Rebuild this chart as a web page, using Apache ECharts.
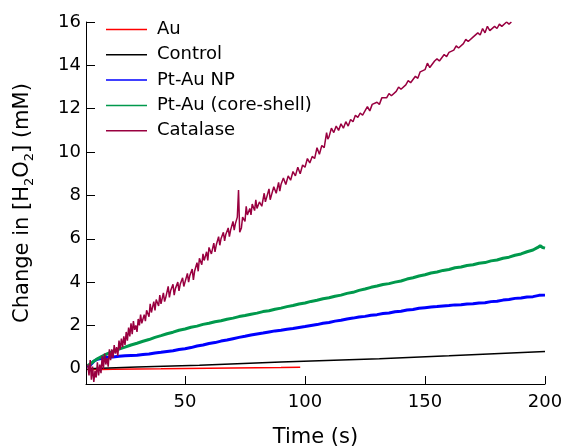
<!DOCTYPE html>
<html>
<head>
<meta charset="utf-8">
<script src="https://cdn.jsdelivr.net/npm/echarts@6/dist/echarts.min.js"></script>
<style>
  html, body { margin: 0; padding: 0; background: #fff; }
  #chart { width: 564px; height: 447px; }
</style>
</head>
<body>
<div id="chart"></div>
<script>
// values, [time (s), change in H2O2 (mM)]
var xTicks = [50, 100, 150, 200];
var yTicks = [0, 2, 4, 6, 8, 10, 12, 14, 16];

var au = [
  [9.5, -0.04], [20, -0.02], [30, -0.01], [40, 0.0], [50, 0.02], [60, 0.03],
  [70, 0.04], [80, 0.05], [90, 0.06], [98, 0.07]
];

var control = [
  [9.5, 0.0], [30, 0.08], [56, 0.17], [90, 0.32], [131, 0.47], [160, 0.6], [200, 0.8]
];

var ptAuNp = [
  [9.5, 0.05], [11, 0.22], [12, 0.35], [13.5, 0.44], [15, 0.48], [17.5, 0.53], [20, 0.55],
  [22.5, 0.58], [25, 0.6], [27.5, 0.62], [30, 0.63], [32.5, 0.66], [35, 0.68], [37.5, 0.73],
  [40, 0.76], [42.5, 0.8], [45, 0.83], [47.5, 0.89], [50, 0.93], [52.5, 0.98], [55, 1.05],
  [57.5, 1.1], [60, 1.17], [62.5, 1.21], [65, 1.28], [67.5, 1.33], [70, 1.39], [72.5, 1.45],
  [75, 1.5], [77.5, 1.56], [80, 1.61], [82.5, 1.65], [85, 1.7], [87.5, 1.75], [90, 1.78],
  [92.5, 1.83], [95, 1.86], [97.5, 1.91], [100, 1.95], [102.5, 2.0], [105, 2.04], [107.5, 2.1],
  [110, 2.14], [112.5, 2.2], [115, 2.24], [117.5, 2.3], [120, 2.34], [122.5, 2.39], [125, 2.42],
  [127.5, 2.47], [130, 2.5], [132.5, 2.55], [135, 2.58], [137.5, 2.63], [140, 2.66], [142.5, 2.71],
  [145, 2.74], [147.5, 2.79], [150, 2.82], [152.5, 2.85], [155, 2.87], [157.5, 2.9], [160, 2.92],
  [162.5, 2.95], [165, 2.96], [167.5, 2.99], [170, 3.0], [172.5, 3.04], [175, 3.05], [177.5, 3.1],
  [180, 3.12], [182.5, 3.17], [185, 3.2], [187.5, 3.25], [190, 3.27], [192.5, 3.31], [195, 3.33],
  [197.5, 3.39], [200, 3.4]
];

var ptAuCoreShell = [
  [9.5, 0.15], [11, 0.26], [12, 0.35], [13.5, 0.46], [15, 0.55], [17.5, 0.69], [20, 0.8],
  [22.5, 0.91], [25, 1.0], [27.5, 1.1], [30, 1.18], [32.5, 1.27], [35, 1.35], [37.5, 1.45],
  [40, 1.53], [42.5, 1.62], [45, 1.69], [47.5, 1.78], [50, 1.84], [52.5, 1.92], [55, 1.97],
  [57.5, 2.05], [60, 2.1], [62.5, 2.17], [65, 2.22], [67.5, 2.29], [70, 2.34], [72.5, 2.41],
  [75, 2.46], [77.5, 2.52], [80, 2.57], [82.5, 2.64], [85, 2.68], [87.5, 2.75], [90, 2.8],
  [92.5, 2.87], [95, 2.92], [97.5, 2.99], [100, 3.04], [102.5, 3.11], [105, 3.16], [107.5, 3.23],
  [110, 3.28], [112.5, 3.35], [115, 3.4], [117.5, 3.48], [120, 3.53], [122.5, 3.62], [125, 3.68],
  [127.5, 3.76], [130, 3.82], [132.5, 3.89], [135, 3.93], [137.5, 4.0], [140, 4.05], [142.5, 4.14],
  [145, 4.2], [147.5, 4.28], [150, 4.34], [152.5, 4.42], [155, 4.47], [157.5, 4.54], [160, 4.58],
  [162.5, 4.66], [165, 4.7], [167.5, 4.77], [170, 4.8], [172.5, 4.87], [175, 4.9], [177.5, 4.98],
  [180, 5.02], [182.5, 5.1], [185, 5.15], [187.5, 5.24], [190, 5.3], [192.5, 5.4], [195, 5.48],
  [197, 5.6], [198, 5.68], [199, 5.6], [200, 5.57]
];

var catalase = [
  [9.5, 0.2], [10, -0.3], [10.5, 0.4], [11, -0.5], [11.5, 0.1], [12, -0.6], [12.5, -0.1],
  [13, -0.4], [13.5, 0.3], [14, -0.3], [14.5, 0.2], [15, -0.2], [15.5, 0.6], [16, 0.0],
  [16.5, 0.7], [17, 0.2], [17.5, 0.5], [18, 0.1], [18.5, 0.9], [19, 0.4], [19.5, 0.9],
  [20, 0.5], [20.5, 1.1], [21, 0.7], [21.5, 1.0], [22, 0.6], [22.5, 1.3], [23, 0.9],
  [23.5, 1.4], [24, 1.0], [24.5, 1.5], [25, 1.1], [25.5, 1.7], [26, 1.3], [26.5, 1.9],
  [27, 1.5], [27.5, 2.1], [28, 1.6], [28.5, 2.2], [29, 1.8], [29.5, 2.0], [30, 1.7],
  [30.5, 2.3], [31, 2.0], [31.5, 2.5], [32, 2.1], [33, 2.5], [33.5, 2.2], [34, 2.7],
  [35, 2.4], [35.5, 3.0], [36, 2.6], [37, 3.1], [37.5, 2.7], [38, 3.2], [39, 2.9],
  [39.5, 3.4], [40, 3.0], [41, 3.5], [41.5, 3.1], [42, 3.3], [43, 3.8], [43.5, 3.3],
  [44, 3.6], [45, 3.9], [45.5, 3.4], [46, 3.7], [47, 4.0], [47.5, 3.6], [48, 3.9],
  [49, 4.2], [49.5, 3.8], [50, 4.0], [51, 4.4], [51.5, 4.0], [52, 4.3], [53, 4.6],
  [53.5, 4.1], [54, 4.5], [55, 4.9], [55.5, 4.5], [56, 5.1], [57, 4.8], [57.5, 5.3],
  [58, 5.0], [59, 5.4], [59.5, 5.0], [60, 5.6], [61, 5.3], [62, 5.8], [62.5, 5.4],
  [63, 5.7], [64, 6.1], [64.5, 5.7], [65, 6.0], [66, 6.3], [66.5, 5.9], [67, 6.2],
  [68, 6.5], [68.5, 6.1], [69, 6.4], [70, 6.8], [70.5, 6.4], [71, 6.7], [71.8, 7.0],
  [72.3, 8.25], [72.8, 6.3], [73.5, 6.5], [74, 7.0], [75, 6.8], [75.5, 7.5], [76, 7.1],
  [77, 7.4], [77.5, 7.1], [78, 7.6], [79, 7.3], [79.5, 7.8], [80, 7.4], [81, 7.7],
  [82, 7.5], [83, 8.1], [83.5, 7.7], [84, 7.9], [85, 8.3], [85.5, 7.8], [86, 8.0],
  [87, 8.4], [88, 8.1], [89, 8.6], [89.5, 8.2], [90, 8.5], [91, 8.8], [92, 8.5],
  [93, 8.9], [94, 8.7], [95, 9.1], [96, 8.9], [97, 9.3], [98, 9.0], [99, 9.4],
  [100, 9.3], [101, 9.7], [102, 9.5], [103, 9.8], [104, 9.7], [105, 10.2], [106, 9.9],
  [107, 10.3], [108, 10.2], [109, 10.9], [109.5, 10.6], [110, 10.7], [111, 11.1], [112, 10.9],
  [113, 11.2], [114, 11.0], [115, 11.3], [116, 11.1], [117, 11.4], [118, 11.2], [119, 11.5],
  [120, 11.4], [121, 11.7], [122, 11.6], [123, 11.8], [124, 11.7], [125, 11.9], [126, 12.1],
  [127, 11.9], [128, 12.2], [130, 12.3], [131, 12.2], [132, 12.5], [134, 12.5], [135, 12.7],
  [136, 12.6], [138, 12.8], [139, 13.0], [140, 12.9], [142, 13.1], [143, 13.3], [144, 13.2],
  [146, 13.5], [147, 13.4], [148, 13.7], [150, 13.8], [151, 14.1], [152, 13.9], [154, 14.2],
  [155, 14.3], [156, 14.2], [158, 14.5], [159, 14.4], [160, 14.6], [162, 14.7], [163, 14.9],
  [164, 14.8], [166, 15.0], [167, 15.2], [168, 15.1], [170, 15.3], [172, 15.5], [173, 15.4],
  [174, 15.7], [175, 15.5], [176, 15.8], [177, 15.6], [179, 15.8], [180, 15.7], [181, 15.9],
  [182, 15.8], [184, 16.0], [185, 15.9], [186, 16.0]
];

var font = 'DejaVu Sans';

function lineSeries(name, data, color, width) {
    return {
        name: name,
        type: 'line',
        data: data,
        symbol: 'none',
        showSymbol: false,
        animation: false,
        lineStyle: { color: color, width: width },
        itemStyle: { color: color }
    };
}

var myChart = echarts.init(document.getElementById('chart'));
var option = {
    backgroundColor: '#fff',
    animation: false,
    grid: { left: 86, right: 19, top: 22, bottom: 63, containLabel: false, outerBoundsMode: 'none' },
    legend: {
        orient: 'vertical',
        left: 101,
        top: 12,
        icon: 'rect',
        itemWidth: 41,
        itemHeight: 1.5,
        itemGap: 0.3,
        textStyle: { fontFamily: font, fontSize: 18, color: '#000', lineHeight: 25, padding: [0, 0, 0, 5] },
        data: ['Au', 'Control', 'Pt-Au NP', 'Pt-Au (core-shell)', 'Catalase']
    },
    xAxis: {
        type: 'value',
        min: 8.75,
        max: 200,
        name: 'Time (s)',
        nameLocation: 'middle',
        nameGap: 43,
        nameTextStyle: { fontFamily: font, fontSize: 21, color: '#000' },
        axisLine: { show: true, onZero: false, lineStyle: { color: '#000', width: 1 } },
        axisTick: { show: true, inside: true, length: 8, customValues: xTicks, lineStyle: { color: '#000' } },
        axisLabel: { customValues: xTicks, fontFamily: font, fontSize: 18, color: '#000', margin: 9 },
        splitLine: { show: false }
    },
    yAxis: {
        type: 'value',
        min: -0.7,
        max: 16,
        name: 'Change in [H{sub|2}O{sub|2}] (mM)',
        nameLocation: 'middle',
        nameGap: 50,
        nameTextStyle: {
            fontFamily: font, fontSize: 21, color: '#000', lineHeight: 26,
            rich: {
                sub: { fontFamily: font, fontSize: 13, lineHeight: 13, verticalAlign: 'bottom', color: '#000' }
            }
        },
        axisLine: { show: true, onZero: false, lineStyle: { color: '#000', width: 1 } },
        axisTick: { show: true, inside: true, length: 9, customValues: yTicks, lineStyle: { color: '#000' } },
        axisLabel: { customValues: yTicks, fontFamily: font, fontSize: 18, color: '#000', margin: 5 },
        splitLine: { show: false }
    },
    series: [
        lineSeries('Au', au, '#ff0000', 1.5),
        lineSeries('Control', control, '#000000', 1.5),
        lineSeries('Pt-Au NP', ptAuNp, '#0000ff', 3),
        lineSeries('Pt-Au (core-shell)', ptAuCoreShell, '#00994c', 3),
        lineSeries('Catalase', catalase, '#990040', 1.5)
    ]
};
myChart.setOption(option);
</script>
</body>
</html>
